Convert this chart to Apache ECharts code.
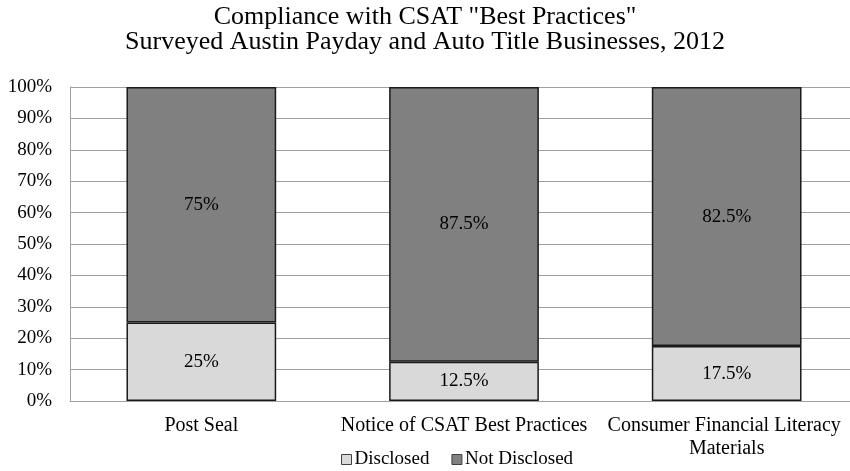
<!DOCTYPE html>
<html>
<head>
<meta charset="utf-8">
<script src="https://cdn.jsdelivr.net/npm/echarts@6/dist/echarts.min.js"></script>
<style>html,body{margin:0;padding:0;background:#fff;overflow:hidden}#c{width:850px;height:471px}</style>
</head>
<body>
<div id="c"></div>
<script>
const categories = ["Post Seal", "Notice of CSAT Best Practices", "Consumer Financial Literacy Materials"];
const disclosed = [25, 12.5, 17.5];
const notDisclosed = [75, 87.5, 82.5];
const yTicks = [0, 10, 20, 30, 40, 50, 60, 70, 80, 90, 100];

const FONT = '"Liberation Serif", "Times New Roman", serif';
const chart = echarts.init(document.getElementById('c'));
chart.setOption({
  animation: false,
  backgroundColor: '#fff',
  textStyle: { fontFamily: FONT },
  title: {
    text: 'Compliance with CSAT "Best Practices"\nSurveyed Austin Payday and Auto Title Businesses, 2012',
    left: 'center', top: 0,
    textStyle: { fontFamily: FONT, fontSize: 26, fontWeight: 'normal', color: '#000', lineHeight: 25 }
  },
  legend: {
    top: 445, left: 336,
    itemWidth: 10, itemHeight: 10, itemGap: 22,
    icon: 'rect',
    textStyle: { fontFamily: FONT, fontSize: 19, color: '#000', padding: [0,0,0,-2] },
    data: [
      { name: 'Disclosed', itemStyle: { color: '#d9d9d9', borderColor: '#404040', borderWidth: 1 } },
      { name: 'Not Disclosed', itemStyle: { color: '#808080', borderColor: '#404040', borderWidth: 1 } }
    ]
  },
  grid: { left: 70, top: 87, width: 788, height: 314, outerBoundsMode: 'none', containLabel: false },
  xAxis: {
    type: 'category', data: categories,
    axisLine: { lineStyle: { color: '#a0a0a0', width: 1 } },
    axisTick: { show: false },
    axisLabel: { interval: 0, color: '#000', fontSize: 20, fontFamily: FONT, margin: 13, width: 252, overflow: 'break', lineHeight: 23 }
  },
  yAxis: {
    type: 'value', min: 0, max: 100, interval: 10,
    axisLine: { show: true, lineStyle: { color: '#a0a0a0' } },
    axisTick: { show: false },
    splitLine: { lineStyle: { color: '#a0a0a0', width: 1 } },
    axisLabel: { color: '#000', fontSize: 19, fontFamily: FONT, margin: 18,
      formatter: v => yTicks.includes(v) ? v + '%' : '' }
  },
  series: [
    {
      name: 'Disclosed', type: 'bar', stack: 's', data: disclosed, barWidth: '57%',
      itemStyle: { color: '#d9d9d9', borderColor: '#1a1a1a', borderWidth: 1.5 },
      label: { show: true, position: 'inside', color: '#000', fontSize: 19, fontFamily: FONT, formatter: p => p.value + '%' }
    },
    {
      name: 'Not Disclosed', type: 'bar', stack: 's', data: notDisclosed, barWidth: '57%',
      itemStyle: { color: '#808080', borderColor: '#1a1a1a', borderWidth: 1.5 },
      label: { show: true, position: 'inside', color: '#000', fontSize: 19, fontFamily: FONT, formatter: p => p.value + '%' }
    }
  ]
});
</script>
</body>
</html>
